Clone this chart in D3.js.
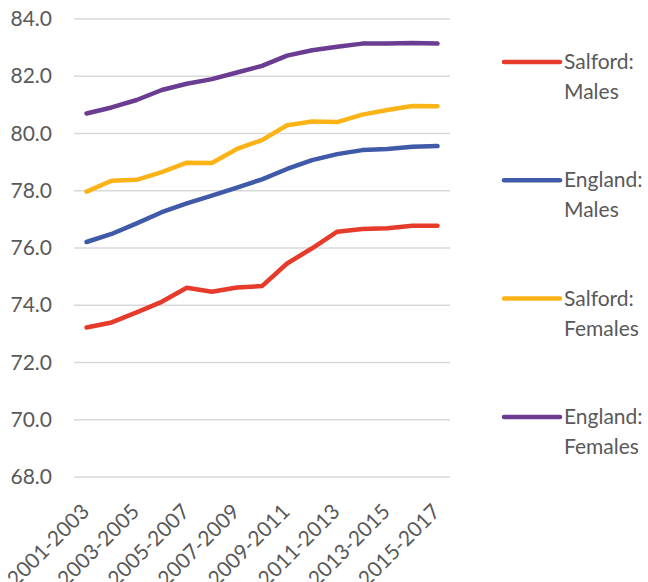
<!DOCTYPE html>
<html>
<head>
<meta charset="utf-8">
<script src="https://cdn.jsdelivr.net/npm/d3@7"></script>
<style>
  html, body { margin: 0; padding: 0; background: #ffffff; }
  svg { display: block; font-family: Lato, "Open Sans", sans-serif; }
</style>
</head>
<body>
<svg id="chart" width="648" height="582"></svg>
<script>
// Life expectancy at birth (years), three-year pooled periods
const periods = [
  "2001-2003", "2002-2004", "2003-2005", "2004-2006", "2005-2007",
  "2006-2008", "2007-2009", "2008-2010", "2009-2011", "2010-2012",
  "2011-2013", "2012-2014", "2013-2015", "2014-2016", "2015-2017"
];
const salfordMales   = [73.22, 73.40, 73.75, 74.12, 74.61, 74.47, 74.62, 74.67, 75.46, 75.99, 76.57, 76.66, 76.69, 76.78, 76.78];
const englandMales   = [76.21, 76.49, 76.86, 77.25, 77.56, 77.83, 78.11, 78.40, 78.76, 79.07, 79.28, 79.42, 79.46, 79.54, 79.56];
const salfordFemales = [77.97, 78.35, 78.38, 78.65, 78.98, 78.97, 79.46, 79.77, 80.29, 80.42, 80.40, 80.66, 80.82, 80.96, 80.95];
const englandFemales = [80.70, 80.91, 81.17, 81.52, 81.74, 81.90, 82.13, 82.36, 82.72, 82.91, 83.03, 83.14, 83.14, 83.16, 83.14];
const yTicks = [68, 70, 72, 74, 76, 78, 80, 82, 84];

const series = [
  { name: ["Salford:", "Males"],   values: salfordMales,   color: "#E63A2B" },
  { name: ["England:", "Males"],   values: englandMales,   color: "#3F5AA8" },
  { name: ["Salford:", "Females"], values: salfordFemales, color: "#FCB318" },
  { name: ["England:", "Females"], values: englandFemales, color: "#6A3D92" }
];

const svg = d3.select("#chart");
const plot = { left: 74, right: 450, top: 19, bottom: 477 };

const x = d3.scalePoint().domain(periods).range([plot.left, plot.right]).padding(0.5);
const y = d3.scaleLinear().domain([68, 84]).range([plot.bottom, plot.top]);

// horizontal gridlines
svg.append("g")
  .selectAll("line")
  .data(yTicks)
  .join("line")
  .attr("x1", plot.left).attr("x2", plot.right)
  .attr("y1", d => y(d)).attr("y2", d => y(d))
  .attr("stroke", "#d9d9d9").attr("stroke-width", 1.5);

// y axis labels
const yAxis = d3.axisLeft(y).tickValues(yTicks).tickFormat(d3.format(".1f")).tickSize(0).tickPadding(0);
svg.append("g")
  .attr("transform", `translate(52,0)`)
  .call(yAxis)
  .call(g => g.select(".domain").remove())
  .call(g => g.selectAll("text")
    .attr("font-family", "Lato, 'Open Sans', sans-serif")
    .attr("font-size", 21).attr("fill", "#595959"));

// x axis labels, every other period, rotated
svg.append("g")
  .selectAll("text")
  .data(periods.filter((d, i) => i % 2 === 0))
  .join("text")
  .attr("transform", d => `translate(${x(d) + 4},513) rotate(-45)`)
  .attr("text-anchor", "end")
  .attr("font-size", 21).attr("fill", "#595959")
  .text(d => d);

// series lines
const line = d3.line().x((d, i) => x(periods[i])).y(d => y(d));
svg.append("g")
  .selectAll("path")
  .data(series)
  .join("path")
  .attr("d", d => line(d.values))
  .attr("fill", "none")
  .attr("stroke", d => d.color)
  .attr("stroke-width", 4.5)
  .attr("stroke-linecap", "round")
  .attr("stroke-linejoin", "round");

// legend
const legend = svg.append("g")
  .selectAll("g")
  .data(series)
  .join("g")
  .attr("transform", (d, i) => `translate(504,${62 + i * 118.3})`);
legend.append("line")
  .attr("x1", 0).attr("x2", 56)
  .attr("stroke", d => d.color).attr("stroke-width", 4.5)
  .attr("stroke-linecap", "round");
legend.append("text")
  .attr("x", 60).attr("y", 7)
  .attr("font-size", 21).attr("fill", "#595959")
  .selectAll("tspan")
  .data(d => d.name)
  .join("tspan")
  .attr("x", 60)
  .attr("dy", (d, i) => i === 0 ? 0 : 30)
  .text(d => d);
</script>
</body>
</html>
